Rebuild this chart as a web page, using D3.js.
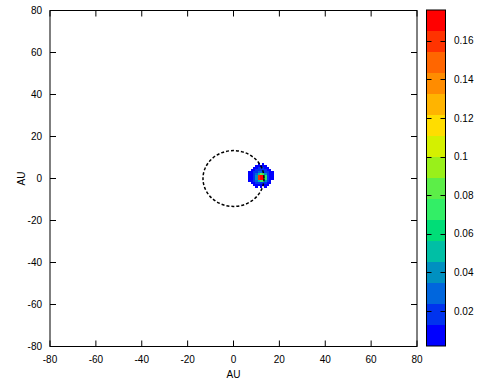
<!DOCTYPE html>
<html>
<head>
<meta charset="utf-8">
<script src="https://cdn.jsdelivr.net/npm/d3@7"></script>
<style>
  html, body { margin: 0; padding: 0; background: #fff; }
  svg { display: block; font-family: "Liberation Sans", Arial, Helvetica, sans-serif; }
</style>
</head>
<body>
<svg id="chart" width="480" height="380"></svg>
<script>
// ---------------- data ----------------
const axisTicks = [-80, -60, -40, -20, 0, 20, 40, 60, 80];
const cbTicks = [0.02, 0.04, 0.06, 0.08, 0.1, 0.12, 0.14, 0.16];
const cbTickLabels = ["0.02", "0.04", "0.06", "0.08", "0.1", "0.12", "0.14", "0.16"];
const cbRange = [0.0019, 0.1759];
// palette bands, bottom (low) to top (high)
const paletteColors = [
  "#0000ff", "#0033ee", "#0066dd", "#0090c0", "#00bfa5", "#00dd77",
  "#33ee66", "#5cee48", "#99f01a", "#d4f000", "#ffdd00", "#ffb400",
  "#ff8c00", "#ff6600", "#ff3300", "#ff0000"
];
const orbitRadius = 13.3; // AU, dashed circle centered at origin
// density grid (AU), cell size 1 AU
const gridX = [7, 8, 9, 10, 11, 12, 13, 14, 15, 16, 17];
const gridY = [7, 6, 5, 4, 3, 2, 1, 0, -1, -2, -3, -4];
const gridValues = [
  [0,     0,     0,     0,     .004,  0,     .005,  0,     0,     0,     0    ],
  [0,     0,     0,     .006,  .009,  .008,  .009,  .006,  0,     0,     0    ],
  [0,     0,     .008,  .011,  .013,  .014,  .013,  .011,  .007,  0,     0    ],
  [0,     .006,  .011,  .015,  .019,  .020,  .019,  .015,  .011,  .006,  0    ],
  [.004,  .009,  .014,  .020,  .026,  .030,  .028,  .020,  .013,  .008,  .004 ],
  [.005,  .010,  .016,  .030,  .055,  .080,  .075,  .045,  .018,  .010,  .005 ],
  [.006,  .011,  .018,  .045,  .165,  .172,  .170,  .075,  .022,  .011,  .005 ],
  [.005,  .010,  .017,  .042,  .160,  .174,  .172,  .070,  .020,  .010,  .004 ],
  [.004,  .008,  .014,  .026,  .050,  .075,  .070,  .038,  .016,  .008,  0    ],
  [0,     .006,  .010,  .014,  .019,  .022,  .020,  .014,  .010,  .005,  0    ],
  [0,     0,     .006,  .008,  .010,  .010,  .010,  .008,  .005,  0,     0    ],
  [0,     0,     0,     .003,  0,     .004,  0,     .003,  0,     0,     0    ]
];
const xLabel = "AU";
const yLabel = "AU";

// ---------------- drawing ----------------
const svg = d3.select("#chart");
const x = d3.scaleLinear().domain([-80, 80]).range([50, 417]);
const y = d3.scaleLinear().domain([-80, 80]).range([346.5, 10.5]);
const color = d3.scaleQuantize().domain(cbRange).range(paletteColors);

// density cells
const cells = [];
gridY.forEach((gy, i) => gridX.forEach((gx, j) => {
  const v = gridValues[i][j];
  if (v > cbRange[0]) cells.push({gx, gy, v});
}));
svg.append("g").selectAll("rect").data(cells).join("rect")
  .attr("x", d => x(d.gx - 0.5))
  .attr("y", d => y(d.gy + 0.5))
  .attr("width", d => x(d.gx + 0.5) - x(d.gx - 0.5))
  .attr("height", d => y(d.gy - 0.5) - y(d.gy + 0.5))
  .attr("fill", d => color(d.v))
  .attr("shape-rendering", "crispEdges");

// dashed orbit
svg.append("ellipse")
  .attr("cx", x(0)).attr("cy", y(0))
  .attr("rx", x(orbitRadius) - x(0))
  .attr("ry", y(0) - y(orbitRadius))
  .attr("fill", "none")
  .attr("stroke", "#000")
  .attr("stroke-width", 1.5)
  .attr("stroke-dasharray", "3,2");

// frame
svg.append("rect")
  .attr("x", x(-80)).attr("y", y(80))
  .attr("width", x(80) - x(-80)).attr("height", y(-80) - y(80))
  .attr("fill", "none").attr("stroke", "#000").attr("stroke-width", 1);

const tickLen = 6;
const tg = svg.append("g").attr("stroke", "#000").attr("stroke-width", 1);
axisTicks.forEach(t => {
  tg.append("line").attr("x1", x(t)).attr("x2", x(t)).attr("y1", y(-80)).attr("y2", y(-80) - tickLen);
  tg.append("line").attr("x1", x(t)).attr("x2", x(t)).attr("y1", y(80)).attr("y2", y(80) + tickLen);
  tg.append("line").attr("y1", y(t)).attr("y2", y(t)).attr("x1", x(-80)).attr("x2", x(-80) + tickLen);
  tg.append("line").attr("y1", y(t)).attr("y2", y(t)).attr("x1", x(80)).attr("x2", x(80) - tickLen);
});

const lab = svg.append("g").attr("font-size", 10).attr("fill", "#000");
axisTicks.forEach(t => {
  lab.append("text").attr("x", x(t)).attr("y", 363).attr("text-anchor", "middle").text(t);
  lab.append("text").attr("x", 42).attr("y", y(t) + 3.6).attr("text-anchor", "end").text(t);
});
lab.append("text").attr("x", x(0)).attr("y", 378).attr("text-anchor", "middle").text(xLabel);
lab.append("text").attr("transform", `translate(24.5,${y(0)}) rotate(-90)`)
  .attr("text-anchor", "middle").text(yLabel);

// colorbar
const cbX0 = 426.5, cbX1 = 445.5;
const cy = d3.scaleLinear().domain(cbRange).range([346, 10]);
const bandEdges = color.thresholds();
const bands = paletteColors.map((c, i) => ({
  c,
  lo: i === 0 ? cbRange[0] : bandEdges[i - 1],
  hi: i === paletteColors.length - 1 ? cbRange[1] : bandEdges[i]
}));
svg.append("g").selectAll("rect").data(bands).join("rect")
  .attr("x", cbX0).attr("width", cbX1 - cbX0)
  .attr("y", d => cy(d.hi)).attr("height", d => cy(d.lo) - cy(d.hi))
  .attr("fill", d => d.c)
  .attr("shape-rendering", "crispEdges");
svg.append("rect")
  .attr("x", cbX0).attr("y", cy(cbRange[1]))
  .attr("width", cbX1 - cbX0).attr("height", cy(cbRange[0]) - cy(cbRange[1]))
  .attr("fill", "none").attr("stroke", "#000").attr("stroke-width", 1);
const ctg = svg.append("g").attr("stroke", "#000").attr("stroke-width", 1);
cbTicks.forEach((t, i) => {
  ctg.append("line").attr("x1", cbX0).attr("x2", cbX0 + 5).attr("y1", Math.round(cy(t)) + 0.5).attr("y2", Math.round(cy(t)) + 0.5);
  ctg.append("line").attr("x1", cbX1 - 5).attr("x2", cbX1).attr("y1", Math.round(cy(t)) + 0.5).attr("y2", Math.round(cy(t)) + 0.5);
  lab.append("text").attr("x", 454).attr("y", cy(t) + 3.6).attr("text-anchor", "start").text(cbTickLabels[i]);
});
</script>
</body>
</html>
